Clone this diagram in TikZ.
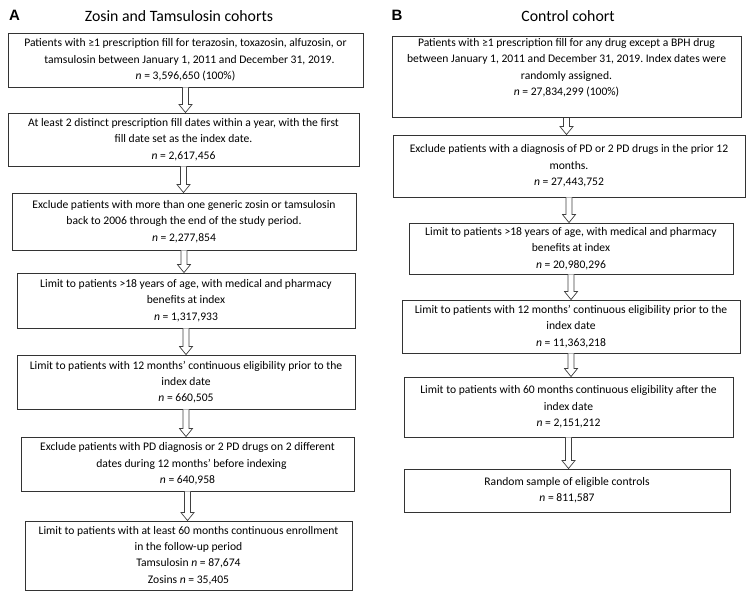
\documentclass[tikz,border=0pt]{standalone}
\usepackage{fontspec}
\setmainfont{Carlito}
\newfontfamily\labfont{Liberation Sans}
\usetikzlibrary{calc}
\frenchspacing
\tikzset{
  box/.style={draw=black!80, line width=0.9pt, rectangle, align=center,
    inner xsep=0pt, inner ysep=2pt, font=\fontsize{11.6}{16.3}\selectfont},
  blockarrow/.style={draw=black!75, line width=0.7pt, fill=white},
  title/.style={font=\fontsize{15.8}{17}\selectfont},
  panel/.style={font=\labfont\bfseries\fontsize{15}{16}\selectfont}
}
% #1 name, #2 x1, #3 y1, #4 x2, #5 y2, #6 text
\newcommand{\mybox}[6]{%
  \node[box, minimum width={#4-#2}, minimum height={#5-#3}]
    (#1) at ({(#2+#4)/2},{(#3+#5)/2}) {#6};}
\newcommand{\myarrow}[2]{%
  \path[blockarrow] let \p1=(#1.south), \p2=(#2.north) in
    (\x1-3pt,\y1) -- (\x1-3pt,\y2+8pt) -- (\x1-6.5pt,\y2+8pt) -- (\x1,\y2)
    -- (\x1+6.5pt,\y2+8pt) -- (\x1+3pt,\y2+8pt) -- (\x1+3pt,\y1);}
\begin{document}
\begin{tikzpicture}[x=1pt,y=-1pt]
\useasboundingbox (0,0) rectangle (749,600);
\node[panel] (pa) at (14.5,15) {A};
\node[title] (ta) at (179,16) {Zosin and Tamsulosin cohorts};
\node[panel] (pb) at (397,15) {B};
\node[title] (tb) at (568,16) {Control cohort};

\mybox{a1}{8}{33}{363}{87}{Patients with ≥1 prescription fill for terazosin, toxazosin, alfuzosin, or\\ \ \ \ tamsulosin between January 1, 2011 and December 31, 2019.\\ \textit{n} = 3,596,650 (100\%)}
\mybox{a2}{8}{113}{359}{166}{At least 2 distinct prescription fill dates within a year, with the first\\ fill date set as the index date.\\ \textit{n} = 2,617,456}
\mybox{a3}{12}{193}{356}{250}{Exclude patients with more than one generic zosin or tamsulosin\\ back to 2006 through the end of the study period.\\ \textit{n} = 2,277,854}
\mybox{a4}{17}{273}{355}{328}{Limit to patients >18 years of age, with medical and pharmacy\\ benefits at index\\ \textit{n} = 1,317,933}
\mybox{a5}{17}{355}{355}{409}{Limit to patients with 12 months’ continuous eligibility prior to the\\ index date\\ \textit{n} = 660,505}
\mybox{a6}{21}{437}{354}{491}{Exclude patients with PD diagnosis or 2 PD drugs on 2 different\\ \ \ \ dates during 12 months’ before indexing\\ \textit{n} = 640,958}
\mybox{a7}{25}{521}{352}{590}{Limit to patients with at least 60 months continuous enrollment\\ in the follow-up period\\ Tamsulosin \textit{n} = 87,674\\ Zosins \textit{n} = 35,405}

\mybox{b1}{392}{37}{741}{117}{Patients with ≥1 prescription fill for any drug except a BPH drug\\ between January 1, 2011 and December 31, 2019. Index dates were\\ randomly assigned.\\ \textit{n} = 27,834,299 (100\%)\\[4pt]}
\mybox{b2}{393}{135}{745}{197}{Exclude patients with a diagnosis of PD or 2 PD drugs in the prior 12\\ months.\\ \textit{n} = 27,443,752}
\mybox{b3}{409}{223}{733}{274}{Limit to patients >18 years of age, with medical and pharmacy\\ benefits at index\\ \textit{n} = 20,980,296}
\mybox{b4}{402}{300}{740}{353}{Limit to patients with 12 months’ continuous eligibility prior to the\\ index date\\ \textit{n} = 11,363,218}
\mybox{b5}{404}{377}{733}{437}{Limit to patients with 60 months continuous eligibility after the\\ index date\\ \textit{n} = 2,151,212}
\mybox{b6}{404}{469}{730}{512}{Random sample of eligible controls\\ \textit{n} = 811,587}

\myarrow{a1}{a2}
\myarrow{a2}{a3}
\myarrow{a3}{a4}
\myarrow{a4}{a5}
\myarrow{a5}{a6}
\myarrow{a6}{a7}
\myarrow{b1}{b2}
\myarrow{b2}{b3}
\myarrow{b3}{b4}
\myarrow{b4}{b5}
\myarrow{b5}{b6}
\end{tikzpicture}
\end{document}
